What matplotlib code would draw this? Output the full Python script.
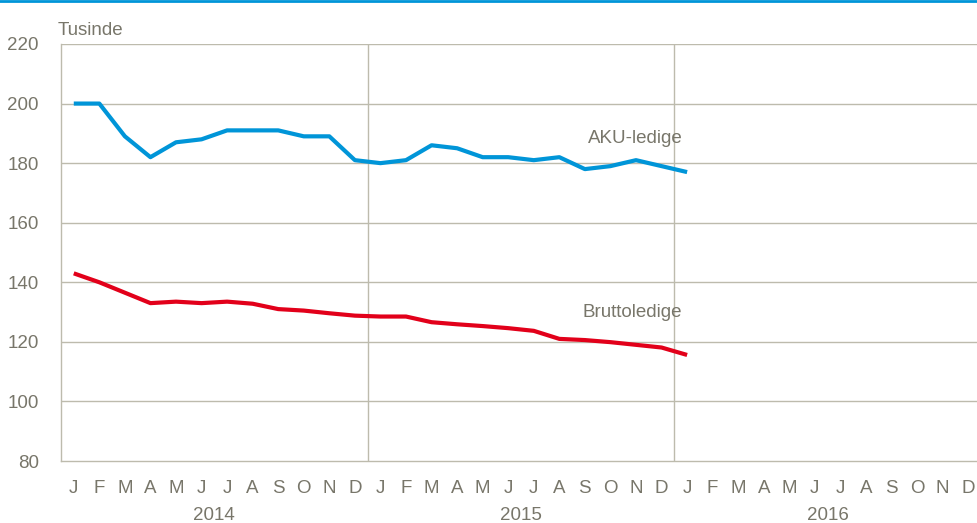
import numpy as np
import matplotlib.pyplot as plt
from matplotlib import font_manager

# month labels, three years
months = ['J', 'F', 'M', 'A', 'M', 'J', 'J', 'A', 'S', 'O', 'N', 'D'] * 3
years = ['2014', '2015', '2016']

# values in thousands, Jan 2014 - Jan 2016
aku = [200, 200, 189, 182, 187, 188, 191, 191, 191, 189, 189, 181,
       180, 181, 186, 185, 182, 182, 181, 182, 178, 179, 181, 179, 177]
brutto = [143, 140, 136.5, 133, 133.5, 133, 133.5, 132.8, 131, 130.5, 129.6, 128.8,
          128.5, 128.5, 126.6, 125.9, 125.3, 124.6, 123.7, 121, 120.6, 119.9, 119, 118.1, 115.6]

gray_txt = '#78766a'
grid_col = '#bdbbad'

names = {f.name for f in font_manager.fontManager.ttflist}
fam = ['Liberation Sans Narrow'] if 'Liberation Sans Narrow' in names else []
plt.rcParams['font.family'] = fam + ['Liberation Sans', 'DejaVu Sans']
fs = 14 if fam else 13.5

fig = plt.figure(figsize=(9.78, 5.23), dpi=100)
ax = fig.add_axes([61 / 978, 1 - 461 / 523, 920 / 978, 417 / 523])

x = np.arange(len(aku))
ax.plot(x, aku, color='#0095d8', lw=3, solid_capstyle='butt', zorder=3)
ax.plot(x, brutto, color='#e2001a', lw=3, solid_capstyle='butt', zorder=3)

ax.set_xlim(-0.5, 35.5)
ax.set_ylim(80, 220)
ax.set_yticks(range(80, 221, 20))
ax.set_xticks(np.arange(36))
ax.set_xticklabels(months)
ax.tick_params(length=0, labelsize=fs, colors=gray_txt)
ax.tick_params(axis='x', pad=14)
ax.tick_params(axis='y', pad=16)

for y in range(100, 221, 20):
    ax.axhline(y, color=grid_col, lw=1, zorder=1)
for xv in [11.5, 23.5]:
    ax.axvline(xv, color=grid_col, lw=1, zorder=1)

for s in ['top', 'right']:
    ax.spines[s].set_visible(False)
for s in ['left', 'bottom']:
    ax.spines[s].set_color(grid_col)
    ax.spines[s].set_linewidth(1)

for i, yr in enumerate(years):
    ax.text(5.5 + 12 * i, -0.11, yr, transform=ax.get_xaxis_transform(),
            ha='center', va='top', fontsize=fs, color=gray_txt)

ax.text(-0.004, 1.022, 'Tusinde', transform=ax.transAxes, ha='left', va='baseline',
        fontsize=fs, color=gray_txt)
ax.text(21.96, 188.4, 'AKU-ledige', ha='center', va='center', fontsize=fs, color=gray_txt)
ax.text(21.85, 130.0, 'Bruttoledige', ha='center', va='center', fontsize=fs, color=gray_txt)

# blue rule at the top of the figure
fig.add_artist(plt.Line2D([0, 1], [0.998, 0.998], transform=fig.transFigure,
                          color='#0095d8', lw=2))

fig.savefig('out.png', dpi=100)
